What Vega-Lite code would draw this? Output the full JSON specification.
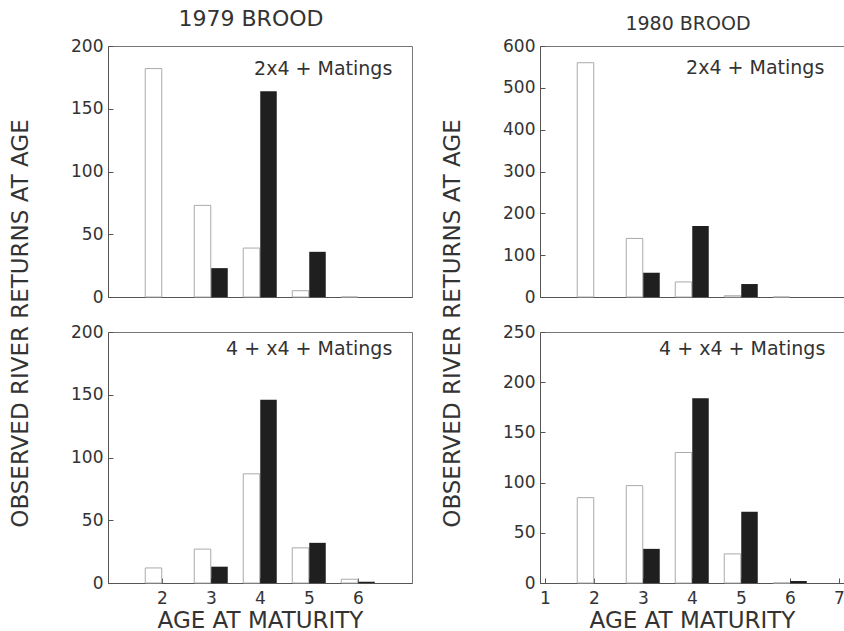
{
  "$schema": "https://vega.github.io/schema/vega-lite/v6.json",
  "background": "white",
  "padding": {"left": 9, "top": 7, "right": 0, "bottom": 0},
  "datasets": {
    "returns": [
      {"brood": "1979", "mating": "2x4+", "age": 2, "kind": "open", "n": 182},
      {"brood": "1979", "mating": "2x4+", "age": 3, "kind": "open", "n": 73},
      {"brood": "1979", "mating": "2x4+", "age": 4, "kind": "open", "n": 39},
      {"brood": "1979", "mating": "2x4+", "age": 5, "kind": "open", "n": 5},
      {"brood": "1979", "mating": "2x4+", "age": 6, "kind": "open", "n": 0},
      {"brood": "1979", "mating": "2x4+", "age": 2, "kind": "filled", "n": 0},
      {"brood": "1979", "mating": "2x4+", "age": 3, "kind": "filled", "n": 23},
      {"brood": "1979", "mating": "2x4+", "age": 4, "kind": "filled", "n": 164},
      {"brood": "1979", "mating": "2x4+", "age": 5, "kind": "filled", "n": 36},
      {"brood": "1979", "mating": "2x4+", "age": 6, "kind": "filled", "n": 0},
      {"brood": "1980", "mating": "2x4+", "age": 2, "kind": "open", "n": 560},
      {"brood": "1980", "mating": "2x4+", "age": 3, "kind": "open", "n": 140},
      {"brood": "1980", "mating": "2x4+", "age": 4, "kind": "open", "n": 36},
      {"brood": "1980", "mating": "2x4+", "age": 5, "kind": "open", "n": 3},
      {"brood": "1980", "mating": "2x4+", "age": 6, "kind": "open", "n": 0},
      {"brood": "1980", "mating": "2x4+", "age": 2, "kind": "filled", "n": 0},
      {"brood": "1980", "mating": "2x4+", "age": 3, "kind": "filled", "n": 58},
      {"brood": "1980", "mating": "2x4+", "age": 4, "kind": "filled", "n": 170},
      {"brood": "1980", "mating": "2x4+", "age": 5, "kind": "filled", "n": 31},
      {"brood": "1980", "mating": "2x4+", "age": 6, "kind": "filled", "n": 0},
      {"brood": "1979", "mating": "4+x4+", "age": 2, "kind": "open", "n": 12},
      {"brood": "1979", "mating": "4+x4+", "age": 3, "kind": "open", "n": 27},
      {"brood": "1979", "mating": "4+x4+", "age": 4, "kind": "open", "n": 87},
      {"brood": "1979", "mating": "4+x4+", "age": 5, "kind": "open", "n": 28},
      {"brood": "1979", "mating": "4+x4+", "age": 6, "kind": "open", "n": 3},
      {"brood": "1979", "mating": "4+x4+", "age": 2, "kind": "filled", "n": 0},
      {"brood": "1979", "mating": "4+x4+", "age": 3, "kind": "filled", "n": 13},
      {"brood": "1979", "mating": "4+x4+", "age": 4, "kind": "filled", "n": 146},
      {"brood": "1979", "mating": "4+x4+", "age": 5, "kind": "filled", "n": 32},
      {"brood": "1979", "mating": "4+x4+", "age": 6, "kind": "filled", "n": 1},
      {"brood": "1980", "mating": "4+x4+", "age": 2, "kind": "open", "n": 85},
      {"brood": "1980", "mating": "4+x4+", "age": 3, "kind": "open", "n": 97},
      {"brood": "1980", "mating": "4+x4+", "age": 4, "kind": "open", "n": 130},
      {"brood": "1980", "mating": "4+x4+", "age": 5, "kind": "open", "n": 29},
      {"brood": "1980", "mating": "4+x4+", "age": 6, "kind": "open", "n": 0},
      {"brood": "1980", "mating": "4+x4+", "age": 2, "kind": "filled", "n": 0},
      {"brood": "1980", "mating": "4+x4+", "age": 3, "kind": "filled", "n": 34},
      {"brood": "1980", "mating": "4+x4+", "age": 4, "kind": "filled", "n": 184},
      {"brood": "1980", "mating": "4+x4+", "age": 5, "kind": "filled", "n": 71},
      {"brood": "1980", "mating": "4+x4+", "age": 6, "kind": "filled", "n": 2}
    ],
    "labels": [
      {"brood": "1979", "mating": "2x4+", "label": "2x4 + Matings"},
      {"brood": "1980", "mating": "2x4+", "label": "2x4 + Matings"},
      {"brood": "1979", "mating": "4+x4+", "label": "4 + x4 + Matings"},
      {"brood": "1980", "mating": "4+x4+", "label": "4 + x4 + Matings"}
    ]
  },
  "columns": 2,
  "spacing": {"row": 35, "column": 128},
  "bounds": "flush",
  "config": {
    "font": "DejaVu Sans",
    "view": {"stroke": "#777", "strokeWidth": 1},
    "axis": {
      "grid": false,
      "domainColor": "#555",
      "tickColor": "#555",
      "tickSize": -5,
      "labelFont": "DejaVu Sans",
      "labelFontSize": 17,
      "labelColor": "#333",
      "titleFont": "DejaVu Sans",
      "titleFontSize": 23,
      "titleFontWeight": "normal",
      "titleColor": "#333"
    },
    "title": {"font": "DejaVu Sans", "fontSize": 22, "fontWeight": "normal", "color": "#333"}
  },
  "concat": [
    {
      "width": 304, "height": 251,
      "title": {"text": "1979 BROOD", "offset": 6, "dx": -9},
      "layer": [
        {"data": {"name": "returns"},
         "transform": [{"filter": "datum.brood === '1979' && datum.mating === '2x4+' && datum.kind === 'open'"}],
         "mark": {"type": "bar", "orient": "vertical", "width": 16.5, "xOffset": -8.5, "fill": "white", "stroke": "#aaa", "strokeWidth": 1},
         "encoding": {
           "x": {"field": "age", "type": "quantitative", "scale": {"domain": [1, 7], "nice": false, "zero": false},
                 "axis": {"title": null, "labels": false, "ticks": false}},
           "y": {"field": "n", "type": "quantitative", "scale": {"domain": [0, 200], "nice": false},
                 "axis": {"values": [0, 50, 100, 150, 200], "title": null, "labelPadding": 10}}
         }},
        {"data": {"name": "returns"},
         "transform": [{"filter": "datum.brood === '1979' && datum.mating === '2x4+' && datum.kind === 'filled'"}],
         "mark": {"type": "bar", "orient": "vertical", "width": 16.5, "xOffset": 8.5, "fill": "#1f1f1f"},
         "encoding": {
           "x": {"field": "age", "type": "quantitative"},
           "y": {"field": "n", "type": "quantitative"}
         }},
        {"data": {"name": "labels"},
         "transform": [{"filter": "datum.brood === '1979' && datum.mating === '2x4+'"}],
         "mark": {"type": "text", "align": "right", "baseline": "alphabetic", "fontSize": 19, "fill": "#333"},
         "encoding": {"x": {"datum": 6.7, "type": "quantitative"}, "y": {"datum": 177, "type": "quantitative"}, "text": {"field": "label", "type": "nominal"}}}
      ]
    },
    {
      "width": 304, "height": 251,
      "title": {"text": "1980 BROOD", "offset": 3, "dx": -4, "fontSize": 19},
      "layer": [
        {"data": {"name": "returns"},
         "transform": [{"filter": "datum.brood === '1980' && datum.mating === '2x4+' && datum.kind === 'open'"}],
         "mark": {"type": "bar", "orient": "vertical", "width": 16.5, "xOffset": -8.5, "fill": "white", "stroke": "#aaa", "strokeWidth": 1},
         "encoding": {
           "x": {"field": "age", "type": "quantitative", "scale": {"domain": [1, 7], "nice": false, "zero": false},
                 "axis": {"title": null, "labels": false, "ticks": false}},
           "y": {"field": "n", "type": "quantitative", "scale": {"domain": [0, 600], "nice": false},
                 "axis": {"values": [0, 100, 200, 300, 400, 500, 600], "title": null, "labelPadding": 10}}
         }},
        {"data": {"name": "returns"},
         "transform": [{"filter": "datum.brood === '1980' && datum.mating === '2x4+' && datum.kind === 'filled'"}],
         "mark": {"type": "bar", "orient": "vertical", "width": 16.5, "xOffset": 8.5, "fill": "#1f1f1f"},
         "encoding": {
           "x": {"field": "age", "type": "quantitative"},
           "y": {"field": "n", "type": "quantitative"}
         }},
        {"data": {"name": "labels"},
         "transform": [{"filter": "datum.brood === '1980' && datum.mating === '2x4+'"}],
         "mark": {"type": "text", "align": "right", "baseline": "alphabetic", "fontSize": 19, "fill": "#333"},
         "encoding": {"x": {"datum": 6.7, "type": "quantitative"}, "y": {"datum": 533, "type": "quantitative"}, "text": {"field": "label", "type": "nominal"}}}
      ]
    },
    {
      "width": 304, "height": 251,
      "layer": [
        {"data": {"name": "returns"},
         "transform": [{"filter": "datum.brood === '1979' && datum.mating === '4+x4+' && datum.kind === 'open'"}],
         "mark": {"type": "bar", "orient": "vertical", "width": 16.5, "xOffset": -8.5, "fill": "white", "stroke": "#aaa", "strokeWidth": 1},
         "encoding": {
           "x": {"field": "age", "type": "quantitative", "scale": {"domain": [1, 7], "nice": false, "zero": false},
                 "axis": {"title": "AGE AT MATURITY", "values": [2, 3, 4, 5, 6], "labelPadding": 12, "titlePadding": 3, "titleFontSize": 23}},
           "y": {"field": "n", "type": "quantitative", "scale": {"domain": [0, 200], "nice": false},
                 "axis": {"values": [0, 50, 100, 150, 200], "title": "OBSERVED RIVER RETURNS AT AGE", "titleY": -9, "titlePadding": 38, "labelPadding": 10}}
         }},
        {"data": {"name": "returns"},
         "transform": [{"filter": "datum.brood === '1979' && datum.mating === '4+x4+' && datum.kind === 'filled'"}],
         "mark": {"type": "bar", "orient": "vertical", "width": 16.5, "xOffset": 8.5, "fill": "#1f1f1f"},
         "encoding": {
           "x": {"field": "age", "type": "quantitative"},
           "y": {"field": "n", "type": "quantitative"}
         }},
        {"data": {"name": "labels"},
         "transform": [{"filter": "datum.brood === '1979' && datum.mating === '4+x4+'"}],
         "mark": {"type": "text", "align": "right", "baseline": "alphabetic", "fontSize": 19, "fill": "#333"},
         "encoding": {"x": {"datum": 6.7, "type": "quantitative"}, "y": {"datum": 182, "type": "quantitative"}, "text": {"field": "label", "type": "nominal"}}}
      ]
    },
    {
      "width": 304, "height": 251,
      "layer": [
        {"data": {"name": "returns"},
         "transform": [{"filter": "datum.brood === '1980' && datum.mating === '4+x4+' && datum.kind === 'open'"}],
         "mark": {"type": "bar", "orient": "vertical", "width": 16.5, "xOffset": -8.5, "fill": "white", "stroke": "#aaa", "strokeWidth": 1},
         "encoding": {
           "x": {"field": "age", "type": "quantitative", "scale": {"domain": [1, 7], "nice": false, "zero": false},
                 "axis": {"title": "AGE AT MATURITY", "values": [1, 2, 3, 4, 5, 6, 7], "labelPadding": 12, "titlePadding": 3, "titleFontSize": 23}},
           "y": {"field": "n", "type": "quantitative", "scale": {"domain": [0, 250], "nice": false},
                 "axis": {"values": [0, 50, 100, 150, 200, 250], "title": "OBSERVED RIVER RETURNS AT AGE", "titleY": -9, "titlePadding": 38, "labelPadding": 10}}
         }},
        {"data": {"name": "returns"},
         "transform": [{"filter": "datum.brood === '1980' && datum.mating === '4+x4+' && datum.kind === 'filled'"}],
         "mark": {"type": "bar", "orient": "vertical", "width": 16.5, "xOffset": 8.5, "fill": "#1f1f1f"},
         "encoding": {
           "x": {"field": "age", "type": "quantitative"},
           "y": {"field": "n", "type": "quantitative"}
         }},
        {"data": {"name": "labels"},
         "transform": [{"filter": "datum.brood === '1980' && datum.mating === '4+x4+'"}],
         "mark": {"type": "text", "align": "right", "baseline": "alphabetic", "fontSize": 19, "fill": "#333"},
         "encoding": {"x": {"datum": 6.72, "type": "quantitative"}, "y": {"datum": 227, "type": "quantitative"}, "text": {"field": "label", "type": "nominal"}}}
      ]
    }
  ]
}
